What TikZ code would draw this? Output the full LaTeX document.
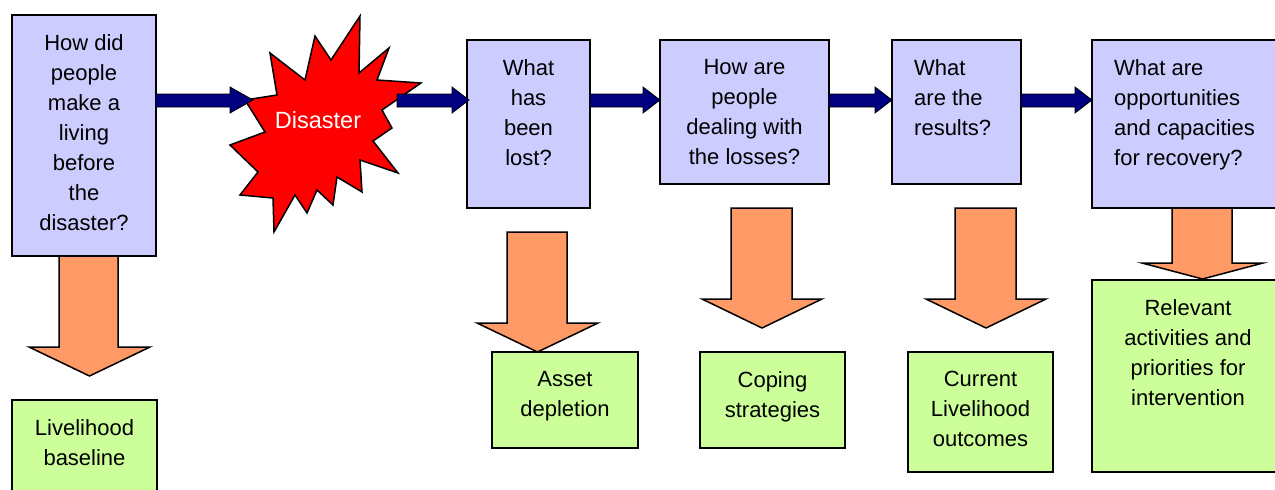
\documentclass[tikz,border=0pt]{standalone}
\usepackage{fontspec}
\setmainfont{Liberation Sans}
\definecolor{qblue}{HTML}{CCCCFF}
\definecolor{agreen}{HTML}{CCFF99}
\definecolor{borange}{HTML}{FF9966}
\definecolor{fnavy}{HTML}{000080}
\begin{document}
\begin{tikzpicture}[x=1pt,y=-1pt,
  panel/.style={draw=black, line width=1.5pt, rectangle, inner sep=0pt, outer sep=0pt, anchor=north west},
  question/.style={panel, fill=qblue},
  answer/.style={panel, fill=agreen},
  label/.style={font=\fontsize{22}{30}\selectfont, inner sep=0pt, execute at begin node=\strut},
  clabel/.style={label, align=center, anchor=north, yshift=-19pt},
  llabel/.style={label, align=left, anchor=north west, yshift=-19pt, xshift=22pt},
  flow/.style={draw=black, line width=0.8pt, fill=fnavy},
  drop/.style={draw=black, line width=1.5pt, fill=borange, line join=miter},
  burst/.style={draw=black, line width=1.5pt, fill=red, line join=miter}]
\useasboundingbox (0,0) rectangle (1275,490);

% navy flow arrow at y=100: start x, head base x, tip x
\newcommand\flowarrow[3]{\draw[flow] (#1,94) -- (#2,94) -- (#2,87) -- (#3,100) -- (#2,113) -- (#2,107) -- (#1,107) -- cycle;}
% orange downward block arrow: shaft left/right, top, head base, head left/right, tip
\newcommand\droparrow[7]{\draw[drop] (#1,#3) -- (#2,#3) -- (#2,#4) -- (#6,#4) -- ({(#5+#6)/2},#7) -- (#5,#4) -- (#1,#4) -- cycle;}

% question panels
\node[question, minimum width=144, minimum height=241] (q1) at (12,15) {};
\node[question, minimum width=123, minimum height=168] (q2) at (467,40) {};
\node[question, minimum width=169, minimum height=144] (q3) at (660,40) {};
\node[question, minimum width=129, minimum height=144] (q4) at (892,40) {};
\node[question, minimum width=198, minimum height=168] (q5) at (1092,40) {};

\node[clabel] (t1) at (q1.north) {How did\\people\\make a\\living\\before\\the\\disaster?};
\node[clabel] (t2) at (q2.north) {What\\has\\been\\lost?};
\node[clabel] (t3) at (q3.north) {How are\\people\\dealing with\\the losses?};
\node[llabel] (t4) at (q4.north west) {What\\are the\\results?};
\node[llabel] (t5) at (q5.north west) {What are\\opportunities\\and capacities\\for recovery?};

% the disaster burst
\draw[burst] (360,16) -- (359,73) -- (389,48) -- (377,80) -- (421,83) -- (382,110)
  -- (392,128) -- (373,141) -- (398,173) -- (360,160) -- (362,192) -- (337,177)
  -- (333,205) -- (317,190) -- (307,213) -- (295,195) -- (274,232) -- (273,198)
  -- (240,195) -- (258,172) -- (230,145) -- (265,132) -- (245,100) -- (277,95)
  -- (270,53) -- (305,80) -- (315,36) -- (331,60) -- cycle;
\node[font=\fontsize{23.5}{28}\selectfont, text=white, inner sep=0pt] (dis) at (318,120) {Disaster};

% flow between stages
\flowarrow{156}{230}{253}
\flowarrow{397}{452}{469}
\flowarrow{590}{643}{660}
\flowarrow{829}{875}{892}
\flowarrow{1021}{1075}{1092}

% outcome panels
\node[answer, minimum width=145, minimum height=100] (a1) at (12,400) {};
\node[answer, minimum width=146, minimum height=96] (a2) at (492,352) {};
\node[answer, minimum width=145, minimum height=96] (a3) at (700,352) {};
\node[answer, minimum width=145, minimum height=120] (a4) at (908,352) {};
\node[answer, minimum width=198, minimum height=192] (a5) at (1092,280) {};

\node[clabel] (u1) at (a1.north) {Livelihood\\baseline};
\node[clabel] (u2) at (a2.north) {Asset\\depletion};
\node[clabel] (u3) at (a3.north) {Coping\\strategies};
\node[clabel] (u4) at (a4.north) {Current\\Livelihood\\outcomes};
\node[clabel] (u5) at (1188,280) {Relevant\\activities and\\priorities for\\intervention};

% downward arrows
\droparrow{59}{118}{256}{347}{29}{150}{376}
\droparrow{507}{567}{232}{323}{477}{598}{352}
\droparrow{731}{792}{208}{299}{702}{822}{328}
\droparrow{955}{1016}{208}{299}{926}{1046}{328}
\droparrow{1172}{1232}{208}{263}{1142}{1263}{279}
\end{tikzpicture}
\end{document}
